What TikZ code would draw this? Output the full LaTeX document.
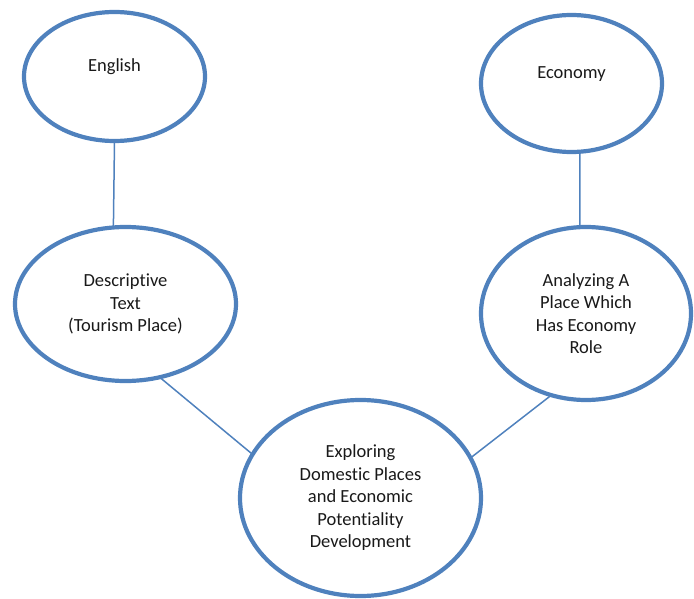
\documentclass[tikz,border=0pt]{standalone}
\usepackage{fontspec}
\setmainfont{Carlito}[Ligatures=NoCommon]
\usetikzlibrary{shapes.geometric}
\definecolor{shapeblue}{RGB}{79,129,189}
\tikzset{
    bubble/.style = {ellipse, draw=shapeblue, line width=4.2pt, inner sep=0pt,
        outer sep=0pt, align=center, text=black!90,
        font=\fontsize{18.5}{22.5}\selectfont},
    link/.style = {draw=shapeblue, line width=1.5pt}
}

\begin{document}
\begin{tikzpicture}[x=1pt, y=-1pt]
        \useasboundingbox (0,0) rectangle (694,599);
        % subjects
        \node[bubble, minimum width=181, minimum height=129] (english) at (114.5,76.5) {English\\~};
        \node[bubble, minimum width=181, minimum height=137] (economy) at (571.5,83.5) {Economy\\~};
        % topics
        \node[bubble, minimum width=221, minimum height=154] (descr) at (125.5,304) {Descriptive\\Text\\(Tourism Place)};
        \node[bubble, minimum width=210, minimum height=173] (analyz) at (586,313.5) {Analyzing A\\Place Which\\Has Economy\\Role};
        \node[bubble, minimum width=241, minimum height=196] (explor) at (360.5,498) {Exploring\\Domestic Places\\and Economic\\Potentiality\\Development};
        % links
        \draw[link] (english.south) -- (descr.99);
        \draw[link] (economy.-83) -- (analyz.94);
        \draw[link] (descr.-65.6) -- (explor.158.7);
        \draw[link] (analyz.247.5) -- (explor.20);
    \end{tikzpicture}
\end{document}
